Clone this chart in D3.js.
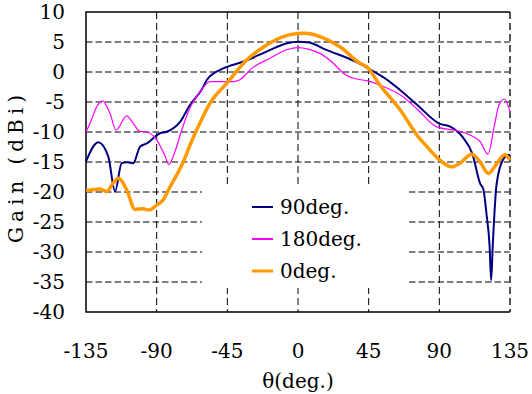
<!DOCTYPE html>
<html>
<head>
<meta charset="utf-8">
<script src="https://cdn.jsdelivr.net/npm/d3@7"></script>
<style>
  body { margin: 0; background: #fff; }
  svg text { font-family: "DejaVu Serif", serif; fill: #000; }
</style>
</head>
<body>
<svg id="chart" width="532" height="394"></svg>
<script>
// ticks
const xTicks = [-135, -90, -45, 0, 45, 90, 135];
const yTicks = [10, 5, 0, -5, -10, -15, -20, -25, -30, -35, -40];

// 90deg.
const theta90 = [-135, -127.2, -120.8, -116.5, -112.3, -109, -104.9, -100.6, -96.3, -87.9, -83.6, -75.1, -68.8, -61, -58, -47.6, -35, -20, -7, 0, 7, 18, 37, 50, 54, 65, 76, 90, 97, 105, 111, 116, 118, 120, 122, 123, 124, 126.5, 131, 134, 135];
const gain90 = [-14.9, -11.7, -14.1, -19.9, -15.2, -15.05, -15.2, -12.45, -11.9, -10.2, -9.95, -8.3, -5.5, -2.8, -1.3, 0.6, 1.7, 3.4, 4.8, 5.05, 4.9, 3.7, 1.7, -0.2, -0.8, -3.0, -5.5, -8.6, -9.1, -10.9, -13.6, -18.6, -19.5, -23.6, -29, -34.7, -29, -18.6, -14.4, -13.8, -13.9];

// 180deg.
const theta180 = [-135, -132.4, -128.2, -124.5, -119.7, -115.9, -109.1, -104.9, -100.6, -96.4, -90, -85, -82.3, -78, -74.7, -68.8, -62.4, -56, -48, -41, -37, -29.5, -17.8, -7.2, 0, 6.6, 14, 22.5, 28.9, 35.2, 43.7, 52.2, 65, 76, 88, 103, 109.5, 116, 121, 125, 128, 131.5, 135];
const gain180 = [-10, -8.55, -5.8, -4.8, -6.9, -9.7, -7.3, -8.55, -9.9, -10, -11.3, -13.8, -15.4, -13, -10.2, -6, -3.3, -1.6, -1.6, -1.6, -1.3, 0.6, 2.3, 3.7, 4.05, 3.8, 3.1, 1.45, -0.2, -1.05, -1.45, -2.2, -3.8, -6.2, -9.1, -9.9, -10.5, -11.6, -13.7, -9, -5.5, -4.5, -6.6];

// 0deg.
const theta0 = [-135, -126, -121.8, -118, -114.4, -109, -103.8, -99, -95, -90, -85.8, -82.6, -72.6, -68.8, -61, -56, -45.4, -32.7, -19.9, -9.4, 0, 3.4, 6.6, 14, 26.7, 39.5, 43.7, 52.2, 65, 76.6, 82, 90.4, 97.8, 103.2, 110.6, 116, 121.2, 126, 131.8, 135];
const gain0 = [-19.8, -19.5, -19.95, -18.6, -17.7, -19.7, -22.9, -22.8, -23, -22.2, -21.3, -19.7, -14.7, -12.2, -7.7, -5.2, -1.9, 2, 4.5, 5.9, 6.4, 6.45, 6.4, 5.9, 4.2, 1.45, 0.9, -2.2, -6.3, -10.8, -12.4, -14.7, -15.8, -15.2, -13.7, -15, -16.9, -15.5, -13.8, -14.7];

const seriesNames = ['90deg.', '180deg.', '0deg.'];

const series = [
  { name: seriesNames[0], theta: theta90, gain: gain90, color: '#000080', width: 2 },
  { name: seriesNames[1], theta: theta180, gain: gain180, color: '#ff00ff', width: 1.2 },
  { name: seriesNames[2], theta: theta0, gain: gain0, color: '#ff9900', width: 3.5 }
];

const svg = d3.select('#chart');
const plotL = 86, plotR = 510, plotT = 12, plotB = 312;

const x = d3.scaleLinear().domain([-135, 135]).range([plotL, plotR]);
const y = d3.scaleLinear().domain([-40, 10]).range([plotB, plotT]);

// grid lines
const grid = svg.append('g');
grid.selectAll('line.h')
  .data(yTicks.filter(d => d > -40 && d < 10))
  .enter().append('line')
  .attr('x1', plotL).attr('x2', plotR)
  .attr('y1', d => y(d)).attr('y2', d => y(d))
  .attr('stroke', '#000').attr('stroke-width', 1)
  .attr('stroke-dasharray', '6.5,3');
grid.selectAll('line.v')
  .data(xTicks.filter(d => d > -135))
  .enter().append('line')
  .attr('x1', d => x(d)).attr('x2', d => x(d))
  .attr('y1', plotT).attr('y2', plotB)
  .attr('stroke', d => d === 135 ? '#555' : '#000')
  .attr('stroke-width', d => d === 135 ? 2 : 1)
  .attr('stroke-dasharray', '7,4');

// frame: left, top, bottom solid
svg.append('path')
  .attr('d', `M${plotR},${plotT}H${plotL}V${plotB}H${plotR}`)
  .attr('fill', 'none').attr('stroke', '#000').attr('stroke-width', 1.5);

// curves
const line = d3.line().curve(d3.curveMonotoneX);
series.forEach(s => {
  const pts = s.theta.map((t, i) => [x(t), y(s.gain[i])]);
  svg.append('path')
    .attr('d', line(pts))
    .attr('fill', 'none')
    .attr('stroke', s.color)
    .attr('stroke-width', s.width)
    .attr('stroke-linejoin', 'round');
});

// y tick labels
svg.append('g').selectAll('text')
  .data(yTicks).enter().append('text')
  .attr('x', 65).attr('y', d => y(d))
  .attr('dy', '0.36em')
  .attr('text-anchor', 'end')
  .attr('font-size', 20)
  .text(d => d);

// x tick labels
svg.append('g').selectAll('text')
  .data(xTicks).enter().append('text')
  .attr('x', d => x(d)).attr('y', 358)
  .attr('text-anchor', 'middle')
  .attr('font-size', 20)
  .text(d => d);

// axis titles
svg.append('text')
  .attr('x', 298).attr('y', 388)
  .attr('text-anchor', 'middle')
  .attr('font-size', 20)
  .text('θ(deg.)');

svg.append('text')
  .attr('transform', 'translate(23,169) rotate(-90)')
  .attr('text-anchor', 'middle')
  .attr('font-size', 20)
  .attr('textLength', 148)
  .attr('lengthAdjust', 'spacing')
  .text('Gain (dBi)');

// legend
const legend = svg.append('g');
legend.append('rect')
  .attr('x', 202).attr('y', 186).attr('width', 207).attr('height', 102)
  .attr('fill', '#fff');
series.forEach((s, i) => {
  const ly = 207 + i * 32;
  legend.append('line')
    .attr('x1', 252).attr('x2', 273)
    .attr('y1', ly).attr('y2', ly)
    .attr('stroke', s.color)
    .attr('stroke-width', i === 2 ? 3 : 2);
  legend.append('text')
    .attr('x', 280).attr('y', ly + 7)
    .attr('font-size', 20)
    .text(s.name);
});
</script>
</body>
</html>
